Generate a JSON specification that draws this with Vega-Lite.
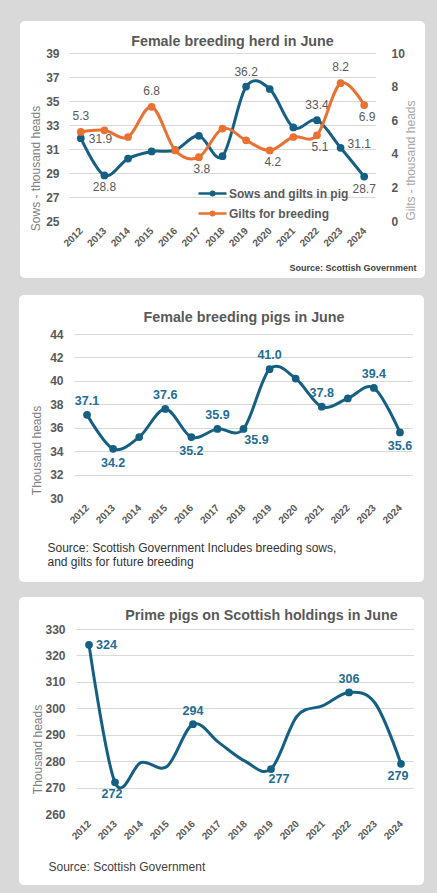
{
  "$schema": "https://vega.github.io/schema/vega-lite/v6.json",
  "background": "#d9d9d9",
  "padding": {"left": 18, "top": 20, "right": 13, "bottom": 10},
  "spacing": 15,
  "datasets": {
    "herd": [
      {"year": 2012, "series": "Sows and gilts in pig", "value": 31.9},
      {"year": 2013, "series": "Sows and gilts in pig", "value": 28.8},
      {"year": 2014, "series": "Sows and gilts in pig", "value": 30.2},
      {"year": 2015, "series": "Sows and gilts in pig", "value": 30.8},
      {"year": 2016, "series": "Sows and gilts in pig", "value": 30.9},
      {"year": 2017, "series": "Sows and gilts in pig", "value": 32.1},
      {"year": 2018, "series": "Sows and gilts in pig", "value": 30.4},
      {"year": 2019, "series": "Sows and gilts in pig", "value": 36.2},
      {"year": 2020, "series": "Sows and gilts in pig", "value": 36.0},
      {"year": 2021, "series": "Sows and gilts in pig", "value": 32.8},
      {"year": 2022, "series": "Sows and gilts in pig", "value": 33.4},
      {"year": 2023, "series": "Sows and gilts in pig", "value": 31.1},
      {"year": 2024, "series": "Sows and gilts in pig", "value": 28.7},
      {"year": 2012, "series": "Gilts for breeding", "value": 5.3},
      {"year": 2013, "series": "Gilts for breeding", "value": 5.4},
      {"year": 2014, "series": "Gilts for breeding", "value": 5.0},
      {"year": 2015, "series": "Gilts for breeding", "value": 6.8},
      {"year": 2016, "series": "Gilts for breeding", "value": 4.2},
      {"year": 2017, "series": "Gilts for breeding", "value": 3.8},
      {"year": 2018, "series": "Gilts for breeding", "value": 5.5},
      {"year": 2019, "series": "Gilts for breeding", "value": 4.8},
      {"year": 2020, "series": "Gilts for breeding", "value": 4.2},
      {"year": 2021, "series": "Gilts for breeding", "value": 5.0},
      {"year": 2022, "series": "Gilts for breeding", "value": 5.1},
      {"year": 2023, "series": "Gilts for breeding", "value": 8.2},
      {"year": 2024, "series": "Gilts for breeding", "value": 6.9}
    ],
    "fbp": [
      {"year": 2012, "value": 37.1},
      {"year": 2013, "value": 34.2},
      {"year": 2014, "value": 35.2},
      {"year": 2015, "value": 37.6},
      {"year": 2016, "value": 35.2},
      {"year": 2017, "value": 35.9},
      {"year": 2018, "value": 35.9},
      {"year": 2019, "value": 41.0},
      {"year": 2020, "value": 40.2},
      {"year": 2021, "value": 37.8},
      {"year": 2022, "value": 38.5},
      {"year": 2023, "value": 39.4},
      {"year": 2024, "value": 35.6}
    ],
    "prime": [
      {"year": 2012, "value": 324},
      {"year": 2013, "value": 272},
      {"year": 2014, "value": 279.5},
      {"year": 2015, "value": 278},
      {"year": 2016, "value": 294},
      {"year": 2017, "value": 287},
      {"year": 2018, "value": 280},
      {"year": 2019, "value": 277},
      {"year": 2020, "value": 297},
      {"year": 2021, "value": 301},
      {"year": 2022, "value": 306},
      {"year": 2023, "value": 302},
      {"year": 2024, "value": 279}
    ],
    "box": [{}]
  },
  "vconcat": [
    {"spacing": 0, "hconcat": [
    {"width": 1, "height": 1, "view": {"fill": null, "stroke": null}, "data": {"name": "box"}, "mark": {"type": "point", "opacity": 0, "size": 0, "strokeWidth": 0}},
    {
      "width": 307,
      "height": 168,
      "resolve": {"scale": {"y": "independent"}, "axis": {"x": "independent", "y": "independent"}},
      "layer": [
        {
          "data": {"name": "box"},
          "mark": {"type": "point", "opacity": 0},
          "encoding": {
            "x": {"datum": 2018, "type": "quantitative", "scale": {"domain": [2011.5, 2024.5], "nice": false, "zero": false},
              "axis": {"zindex": 1, "orient": "top", "labels": false, "ticks": false, "domain": false, "grid": false, "title": "Female breeding herd in June", "titleX": 163, "titleY": -8, "titleAlign": "center", "titleBaseline": "alphabetic", "titleAngle": 0, "titleFontSize": 14.3, "titleFontWeight": "bold", "titleColor": "#595959"}},
            "y": {"datum": 30, "type": "quantitative", "scale": {"domain": [25, 39], "nice": false, "zero": false},
              "axis": {"zindex": 0, "orient": "left", "values": [25, 27, 29, 31, 33, 35, 37, 39], "grid": true, "labels": false, "ticks": false, "domain": false, "title": null}}
          }
        },
        {
          "data": {"name": "box"},
          "layer": [
            {
              "mark": {"type": "rect", "color": "white", "cornerRadiusTopLeft": 5, "cornerRadiusTopRight": 5, "clip": false},
              "encoding": {
                "x": {"datum": 2009.425, "type": "quantitative", "scale": {"domain": [2011.5, 2024.5], "nice": false, "zero": false}, "axis": null},
                "x2": {"datum": 2026.575},
                "y": {"datum": 41.667, "type": "quantitative", "scale": {"domain": [25, 39], "nice": false, "zero": false}, "axis": null},
                "y2": {"datum": 39}
              }
            },
            {
              "mark": {"type": "rect", "color": "white", "cornerRadiusBottomLeft": 5, "cornerRadiusBottomRight": 5, "clip": false},
              "encoding": {
                "x": {"datum": 2009.425, "type": "quantitative", "scale": {"domain": [2011.5, 2024.5], "nice": false, "zero": false}, "axis": null},
                "x2": {"datum": 2026.575},
                "y": {"datum": 25, "type": "quantitative", "scale": {"domain": [25, 39], "nice": false, "zero": false}, "axis": null},
                "y2": {"datum": 20.25}
              }
            },
            {
              "mark": {"type": "rect", "color": "white", "clip": false},
              "encoding": {
                "x": {"datum": 2009.425, "type": "quantitative", "scale": {"domain": [2011.5, 2024.5], "nice": false, "zero": false}, "axis": null},
                "x2": {"datum": 2011.5},
                "y": {"datum": 39, "type": "quantitative", "scale": {"domain": [25, 39], "nice": false, "zero": false}, "axis": null},
                "y2": {"datum": 25}
              }
            },
            {
              "mark": {"type": "rect", "color": "white", "clip": false},
              "encoding": {
                "x": {"datum": 2024.5, "type": "quantitative", "scale": {"domain": [2011.5, 2024.5], "nice": false, "zero": false}, "axis": null},
                "x2": {"datum": 2026.575},
                "y": {"datum": 39, "type": "quantitative", "scale": {"domain": [25, 39], "nice": false, "zero": false}, "axis": null},
                "y2": {"datum": 25}
              }
            }
          ]
        },
        {
          "data": {"name": "herd"},
          "transform": [{"filter": "datum.series === 'Sows and gilts in pig'"}],
          "encoding": {
            "x": {"field": "year", "type": "quantitative", "scale": {"domain": [2011.5, 2024.5], "nice": false, "zero": false},
              "axis": {"zindex": 1, "orient": "bottom", "values": [2012, 2013, 2014, 2015, 2016, 2017, 2018, 2019, 2020, 2021, 2022, 2023, 2024], "format": "d", "labelAngle": -45, "labelAlign": "right", "labelBaseline": "middle", "labelPadding": 8, "labelFontSize": 10, "labelFontWeight": "bold", "grid": false,
                "title": "Source: Scottish Government", "titleX": 347, "titleY": 46, "titleAlign": "right", "titleBaseline": "middle", "titleAngle": 0, "titleFontSize": 9, "titleFontWeight": "bold", "titleColor": "#404040"}},
            "y": {"field": "value", "type": "quantitative", "scale": {"domain": [25, 39], "nice": false, "zero": false},
              "axis": {"zindex": 1, "orient": "left", "values": [25, 27, 29, 31, 33, 35, 37, 39], "labelPadding": 10, "grid": false,
                "title": "Sows - thousand heads", "titleX": -34, "titleY": 115, "titleAlign": "center", "titleBaseline": "middle", "titleAngle": -90, "titleFontSize": 12, "titleFontWeight": "normal", "titleColor": "#7f7f7f"}},
            "color": {"field": "series", "type": "nominal",
              "scale": {"domain": ["Sows and gilts in pig", "Gilts for breeding"], "range": ["#156082", "#E97132"]},
              "legend": {"orient": "none", "legendX": 186, "legendY": 132, "title": null, "direction": "vertical",
                "symbolType": "M-2,0L2,0M-0.24,0A0.24,0.24,0,1,1,0.24,0A0.24,0.24,0,1,1,-0.24,0", "symbolSize": 196, "symbolStrokeWidth": 2.5,
                "labelFontSize": 12, "labelFontWeight": "bold", "labelColor": "#595959", "labelOffset": 8, "rowPadding": 4}}
          },
          "layer": [
            {"mark": {"type": "line", "interpolate": "cardinal", "strokeWidth": 3}},
            {"mark": {"type": "point", "filled": true, "size": 60, "opacity": 1}},
            {"transform": [{"filter": {"field": "year", "oneOf": [2012]}}], "mark": {"type": "text", "align": "left", "dx": 8, "dy": 1, "fontSize": 12}, "encoding": {"text": {"field": "value", "format": ".1f"}, "color": {"value": "#595959"}}},
            {"transform": [{"filter": {"field": "year", "oneOf": [2023]}}], "mark": {"type": "text", "align": "left", "dx": 7, "dy": -4, "fontSize": 12}, "encoding": {"text": {"field": "value", "format": ".1f"}, "color": {"value": "#595959"}}},
            {"transform": [{"filter": {"field": "year", "oneOf": [2013, 2024]}}], "mark": {"type": "text", "dy": 12, "fontSize": 12}, "encoding": {"text": {"field": "value", "format": ".1f"}, "color": {"value": "#595959"}}},
            {"transform": [{"filter": {"field": "year", "oneOf": [2019, 2022]}}], "mark": {"type": "text", "dy": -15, "fontSize": 12}, "encoding": {"text": {"field": "value", "format": ".1f"}, "color": {"value": "#595959"}}}
          ]
        },
        {
          "data": {"name": "herd"},
          "transform": [{"filter": "datum.series === 'Gilts for breeding'"}],
          "encoding": {
            "x": {"field": "year", "type": "quantitative", "scale": {"domain": [2011.5, 2024.5], "nice": false, "zero": false}, "axis": null},
            "y": {"field": "value", "type": "quantitative", "scale": {"domain": [0, 10], "nice": false, "zero": false},
              "axis": {"zindex": 1, "orient": "right", "values": [0, 2, 4, 6, 8, 10], "labelPadding": 15, "grid": false,
                "title": "Gilts - thousand heads", "titleX": 34, "titleY": 107, "titleAlign": "center", "titleBaseline": "middle", "titleAngle": -90, "titleFontSize": 12, "titleFontWeight": "normal", "titleColor": "#a6a6a6"}},
            "color": {"field": "series", "type": "nominal", "scale": {"domain": ["Sows and gilts in pig", "Gilts for breeding"], "range": ["#156082", "#E97132"]}}
          },
          "layer": [
            {"mark": {"type": "line", "interpolate": "cardinal", "strokeWidth": 3}},
            {"mark": {"type": "point", "filled": true, "size": 60, "opacity": 1}},
            {"transform": [{"filter": {"field": "year", "oneOf": [2012, 2015, 2023]}}], "mark": {"type": "text", "dy": -16, "fontSize": 12}, "encoding": {"text": {"field": "value", "format": ".1f"}, "color": {"value": "#595959"}}},
            {"transform": [{"filter": {"field": "year", "oneOf": [2017, 2020, 2022, 2024]}}], "mark": {"type": "text", "dy": 12, "dx": 3, "fontSize": 12}, "encoding": {"text": {"field": "value", "format": ".1f"}, "color": {"value": "#595959"}}}
          ]
        }
      ]
    }
    ]},
    {"spacing": 0, "hconcat": [
    {"width": 1, "height": 1, "view": {"fill": null, "stroke": null}, "data": {"name": "box"}, "mark": {"type": "point", "opacity": 0, "size": 0, "strokeWidth": 0}},
    {
      "width": 339,
      "height": 164,
      "resolve": {"axis": {"x": "independent", "y": "independent"}},
      "layer": [
        {
          "data": {"name": "box"},
          "mark": {"type": "point", "opacity": 0},
          "encoding": {
            "x": {"datum": 2018, "type": "quantitative", "scale": {"domain": [2011.5, 2024.5], "nice": false, "zero": false},
              "axis": {"zindex": 1, "orient": "top", "labels": false, "ticks": false, "domain": false, "grid": false, "title": "Female breeding pigs in June", "titleX": 169.5, "titleY": -13, "titleAlign": "center", "titleBaseline": "alphabetic", "titleAngle": 0, "titleFontSize": 14.3, "titleFontWeight": "bold", "titleColor": "#595959"}},
            "y": {"datum": 35, "type": "quantitative", "scale": {"domain": [30, 44], "nice": false, "zero": false},
              "axis": {"zindex": 0, "orient": "left", "values": [30, 32, 34, 36, 38, 40, 42, 44], "grid": true, "labels": false, "ticks": false, "domain": false, "title": null}}
          }
        },
        {
          "data": {"name": "box"},
          "layer": [
            {
              "mark": {"type": "rect", "color": "white", "cornerRadiusTopLeft": 5, "cornerRadiusTopRight": 5, "clip": false},
              "encoding": {
                "x": {"datum": 2009.391, "type": "quantitative", "scale": {"domain": [2011.5, 2024.5], "nice": false, "zero": false}, "axis": null},
                "x2": {"datum": 2024.92},
                "y": {"datum": 47.33, "type": "quantitative", "scale": {"domain": [30, 44], "nice": false, "zero": false}, "axis": null},
                "y2": {"datum": 44}
              }
            },
            {
              "mark": {"type": "rect", "color": "white", "cornerRadiusBottomLeft": 5, "cornerRadiusBottomRight": 5, "clip": false},
              "encoding": {
                "x": {"datum": 2009.391, "type": "quantitative", "scale": {"domain": [2011.5, 2024.5], "nice": false, "zero": false}, "axis": null},
                "x2": {"datum": 2024.92},
                "y": {"datum": 30, "type": "quantitative", "scale": {"domain": [30, 44], "nice": false, "zero": false}, "axis": null},
                "y2": {"datum": 22.83}
              }
            },
            {
              "mark": {"type": "rect", "color": "white", "clip": false},
              "encoding": {
                "x": {"datum": 2009.391, "type": "quantitative", "scale": {"domain": [2011.5, 2024.5], "nice": false, "zero": false}, "axis": null},
                "x2": {"datum": 2011.5},
                "y": {"datum": 44, "type": "quantitative", "scale": {"domain": [30, 44], "nice": false, "zero": false}, "axis": null},
                "y2": {"datum": 30}
              }
            },
            {
              "mark": {"type": "rect", "color": "white", "clip": false},
              "encoding": {
                "x": {"datum": 2024.5, "type": "quantitative", "scale": {"domain": [2011.5, 2024.5], "nice": false, "zero": false}, "axis": null},
                "x2": {"datum": 2024.92},
                "y": {"datum": 44, "type": "quantitative", "scale": {"domain": [30, 44], "nice": false, "zero": false}, "axis": null},
                "y2": {"datum": 30}
              }
            }
          ]
        },
        {
          "data": {"name": "fbp"},
          "encoding": {
            "x": {"field": "year", "type": "quantitative", "scale": {"domain": [2011.5, 2024.5], "nice": false, "zero": false},
              "axis": {"zindex": 1, "orient": "bottom", "values": [2012, 2013, 2014, 2015, 2016, 2017, 2018, 2019, 2020, 2021, 2022, 2023, 2024], "format": "d", "labelAngle": -45, "labelAlign": "right", "labelBaseline": "middle", "labelPadding": 8, "labelFontSize": 10, "labelFontWeight": "bold", "grid": false,
                "title": ["Source: Scottish Government Includes breeding sows,", "and gilts for future breeding"], "titleX": -27, "titleY": 44, "titleAlign": "left", "titleBaseline": "top", "titleAngle": 0, "titleLineHeight": 14, "titleFontSize": 12, "titleFontWeight": "normal", "titleColor": "#333333"}},
            "y": {"field": "value", "type": "quantitative", "scale": {"domain": [30, 44], "nice": false, "zero": false},
              "axis": {"zindex": 1, "orient": "left", "values": [30, 32, 34, 36, 38, 40, 42, 44], "labelPadding": 11, "grid": false,
                "title": "Thousand heads", "titleX": -38, "titleY": 116, "titleAlign": "center", "titleBaseline": "middle", "titleAngle": -90, "titleFontSize": 12, "titleFontWeight": "normal", "titleColor": "#7f7f7f"}}
          },
          "layer": [
            {"mark": {"type": "line", "interpolate": "cardinal", "strokeWidth": 3, "color": "#156082"}},
            {"mark": {"type": "point", "filled": true, "size": 60, "opacity": 1, "color": "#156082"}},
            {"transform": [{"filter": {"field": "year", "oneOf": [2012, 2015, 2017, 2019, 2021, 2023]}}], "mark": {"type": "text", "dy": -14, "fontSize": 12.5, "fontWeight": "bold", "color": "#1f6d94"}, "encoding": {"text": {"field": "value", "format": ".1f"}}},
            {"transform": [{"filter": {"field": "year", "oneOf": [2013, 2016, 2024]}}], "mark": {"type": "text", "dy": 14, "fontSize": 12.5, "fontWeight": "bold", "color": "#1f6d94"}, "encoding": {"text": {"field": "value", "format": ".1f"}}},
            {"transform": [{"filter": {"field": "year", "oneOf": [2018]}}], "mark": {"type": "text", "dx": 13, "dy": 11, "fontSize": 12.5, "fontWeight": "bold", "color": "#1f6d94"}, "encoding": {"text": {"field": "value", "format": ".1f"}}}
          ]
        }
      ]
    }
    ]},
    {"spacing": 0, "hconcat": [
    {"width": 1, "height": 1, "view": {"fill": null, "stroke": null}, "data": {"name": "box"}, "mark": {"type": "point", "opacity": 0, "size": 0, "strokeWidth": 0}},
    {
      "width": 338,
      "height": 185,
      "resolve": {"axis": {"x": "independent", "y": "independent"}},
      "layer": [
        {
          "data": {"name": "box"},
          "mark": {"type": "point", "opacity": 0},
          "encoding": {
            "x": {"datum": 2018, "type": "quantitative", "scale": {"domain": [2011.5, 2024.5], "nice": false, "zero": false},
              "axis": {"zindex": 1, "orient": "top", "labels": false, "ticks": false, "domain": false, "grid": false, "title": "Prime pigs on Scottish holdings in June", "titleX": 185, "titleY": -10, "titleAlign": "center", "titleBaseline": "alphabetic", "titleAngle": 0, "titleFontSize": 14.3, "titleFontWeight": "bold", "titleColor": "#595959"}},
            "y": {"datum": 300, "type": "quantitative", "scale": {"domain": [260, 330], "nice": false, "zero": false},
              "axis": {"zindex": 0, "orient": "left", "values": [260, 270, 280, 290, 300, 310, 320, 330], "grid": true, "labels": false, "ticks": false, "domain": false, "title": null}}
          }
        },
        {
          "data": {"name": "box"},
          "layer": [
            {
              "mark": {"type": "rect", "color": "white", "cornerRadiusTopLeft": 5, "cornerRadiusTopRight": 5, "clip": false},
              "encoding": {
                "x": {"datum": 2009.308, "type": "quantitative", "scale": {"domain": [2011.5, 2024.5], "nice": false, "zero": false}, "axis": null},
                "x2": {"datum": 2024.885},
                "y": {"datum": 342.1, "type": "quantitative", "scale": {"domain": [260, 330], "nice": false, "zero": false}, "axis": null},
                "y2": {"datum": 330}
              }
            },
            {
              "mark": {"type": "rect", "color": "white", "cornerRadiusBottomLeft": 5, "cornerRadiusBottomRight": 5, "clip": false},
              "encoding": {
                "x": {"datum": 2009.308, "type": "quantitative", "scale": {"domain": [2011.5, 2024.5], "nice": false, "zero": false}, "axis": null},
                "x2": {"datum": 2024.885},
                "y": {"datum": 260, "type": "quantitative", "scale": {"domain": [260, 330], "nice": false, "zero": false}, "axis": null},
                "y2": {"datum": 233.1}
              }
            },
            {
              "mark": {"type": "rect", "color": "white", "clip": false},
              "encoding": {
                "x": {"datum": 2009.308, "type": "quantitative", "scale": {"domain": [2011.5, 2024.5], "nice": false, "zero": false}, "axis": null},
                "x2": {"datum": 2011.5},
                "y": {"datum": 330, "type": "quantitative", "scale": {"domain": [260, 330], "nice": false, "zero": false}, "axis": null},
                "y2": {"datum": 260}
              }
            },
            {
              "mark": {"type": "rect", "color": "white", "clip": false},
              "encoding": {
                "x": {"datum": 2024.5, "type": "quantitative", "scale": {"domain": [2011.5, 2024.5], "nice": false, "zero": false}, "axis": null},
                "x2": {"datum": 2024.885},
                "y": {"datum": 330, "type": "quantitative", "scale": {"domain": [260, 330], "nice": false, "zero": false}, "axis": null},
                "y2": {"datum": 260}
              }
            }
          ]
        },
        {
          "data": {"name": "prime"},
          "encoding": {
            "x": {"field": "year", "type": "quantitative", "scale": {"domain": [2011.5, 2024.5], "nice": false, "zero": false},
              "axis": {"zindex": 1, "orient": "bottom", "values": [2012, 2013, 2014, 2015, 2016, 2017, 2018, 2019, 2020, 2021, 2022, 2023, 2024], "format": "d", "labelAngle": -45, "labelAlign": "right", "labelBaseline": "middle", "labelPadding": 8, "labelFontSize": 10, "labelFontWeight": "bold", "grid": false,
                "title": "Source: Scottish Government", "titleX": -28, "titleY": 47, "titleAlign": "left", "titleBaseline": "top", "titleAngle": 0, "titleFontSize": 12, "titleFontWeight": "normal", "titleColor": "#404040"}},
            "y": {"field": "value", "type": "quantitative", "scale": {"domain": [260, 330], "nice": false, "zero": false},
              "axis": {"zindex": 1, "orient": "left", "values": [260, 270, 280, 290, 300, 310, 320, 330], "labelPadding": 11, "grid": false,
                "title": "Thousand heads", "titleX": -39, "titleY": 120, "titleAlign": "center", "titleBaseline": "middle", "titleAngle": -90, "titleFontSize": 12, "titleFontWeight": "normal", "titleColor": "#7f7f7f"}}
          },
          "layer": [
            {"mark": {"type": "line", "interpolate": "cardinal", "strokeWidth": 3, "color": "#156082"}},
            {"transform": [{"filter": {"field": "year", "oneOf": [2012, 2013, 2016, 2019, 2022, 2024]}}], "mark": {"type": "point", "filled": true, "size": 60, "opacity": 1, "color": "#156082"}},
            {"transform": [{"filter": {"field": "year", "oneOf": [2012]}}], "mark": {"type": "text", "align": "left", "dx": 7, "fontSize": 12.5, "fontWeight": "bold", "color": "#1f6d94"}, "encoding": {"text": {"field": "value", "format": "d"}}},
            {"transform": [{"filter": {"field": "year", "oneOf": [2016, 2022]}}], "mark": {"type": "text", "dy": -13, "fontSize": 12.5, "fontWeight": "bold", "color": "#1f6d94"}, "encoding": {"text": {"field": "value", "format": "d"}}},
            {"transform": [{"filter": {"field": "year", "oneOf": [2013, 2024]}}], "mark": {"type": "text", "dy": 12, "dx": -3, "fontSize": 12.5, "fontWeight": "bold", "color": "#1f6d94"}, "encoding": {"text": {"field": "value", "format": "d"}}},
            {"transform": [{"filter": {"field": "year", "oneOf": [2019]}}], "mark": {"type": "text", "dx": 8, "dy": 10, "fontSize": 12.5, "fontWeight": "bold", "color": "#1f6d94"}, "encoding": {"text": {"field": "value", "format": "d"}}}
          ]
        }
      ]
    }
    ]}
  ],
  "config": {
    "font": "Liberation Sans",
    "view": {"stroke": null, "fill": "white"},
    "axis": {"domain": false, "ticks": false, "gridColor": "#d9d9d9", "gridWidth": 1, "labelColor": "#595959", "labelFontSize": 12, "labelFontWeight": "bold", "labelFont": "Liberation Sans", "titleFont": "Liberation Sans"},
    "legend": {"labelFont": "Liberation Sans"},
    "text": {"font": "Liberation Sans"}
  }
}
